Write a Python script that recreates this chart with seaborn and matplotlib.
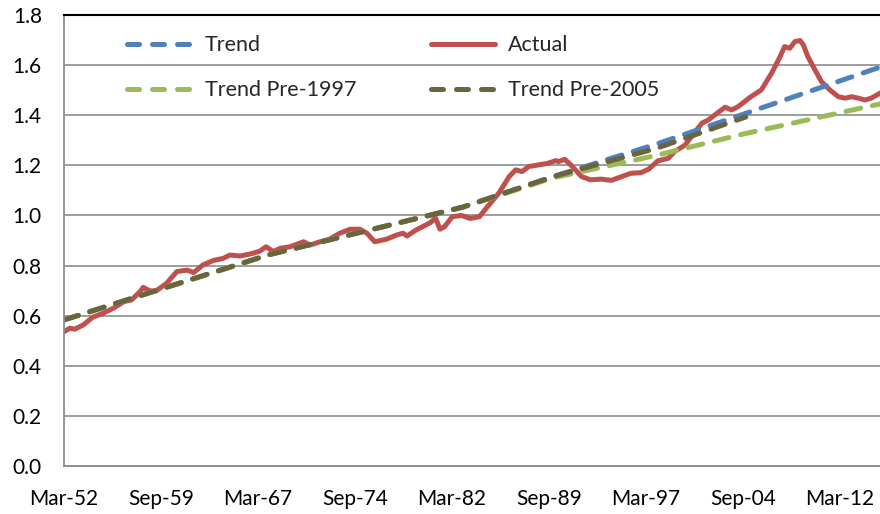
import matplotlib
matplotlib.use("Agg")
import matplotlib.pyplot as plt
import seaborn as sns
import pandas as pd

# ---- data ----
actual_year = [1952.17, 1952.63, 1953.0, 1953.66, 1954.4, 1955.2, 1956.0, 1956.8, 1957.4, 1958.05,
               1958.3, 1958.8, 1959.3, 1960.1, 1960.9, 1961.7, 1962.2, 1962.9, 1963.7, 1964.5,
               1965.0, 1965.8, 1966.55, 1967.3, 1967.8, 1968.35, 1968.9, 1969.65, 1970.7, 1971.2,
               1971.97, 1972.7, 1973.5, 1974.3, 1975.06, 1975.6, 1976.2, 1977.1, 1977.9, 1978.4,
               1978.7, 1979.4, 1980.5, 1980.9, 1981.25, 1981.6, 1982.2, 1982.9, 1983.6, 1984.3,
               1985.0, 1985.8, 1986.6, 1987.1, 1987.6, 1988.1, 1988.9, 1989.6, 1990.2, 1990.4,
               1990.9, 1991.4, 1992.2, 1992.9, 1993.7, 1994.5, 1995.3, 1996.0, 1996.8, 1997.4,
               1998.1, 1998.9, 1999.4, 2000.2, 2000.9, 2001.5, 2002.0, 2002.5, 2003.3, 2003.8,
               2004.3, 2004.8, 2005.3, 2006.1, 2006.9, 2007.5, 2007.9, 2008.3, 2008.7, 2009.1,
               2009.35, 2009.7, 2010.25, 2010.75, 2011.4, 2012.05, 2012.6, 2013.1, 2013.6, 2014.1,
               2014.6, 2015.28]
actual_value = [0.536, 0.550, 0.546, 0.563, 0.594, 0.610, 0.630, 0.656, 0.663, 0.696,
                0.713, 0.699, 0.699, 0.729, 0.776, 0.782, 0.772, 0.802, 0.820, 0.829,
                0.842, 0.838, 0.846, 0.857, 0.875, 0.856, 0.869, 0.875, 0.895, 0.882,
                0.895, 0.905, 0.929, 0.945, 0.945, 0.929, 0.895, 0.905, 0.922, 0.929,
                0.918, 0.942, 0.971, 0.990, 0.945, 0.955, 0.995, 1.000, 0.988, 0.995,
                1.040, 1.089, 1.155, 1.182, 1.175, 1.195, 1.202, 1.208, 1.219, 1.215,
                1.224, 1.200, 1.155, 1.142, 1.145, 1.140, 1.155, 1.168, 1.171, 1.185,
                1.218, 1.228, 1.255, 1.281, 1.328, 1.368, 1.381, 1.401, 1.432, 1.421,
                1.434, 1.454, 1.474, 1.501, 1.568, 1.628, 1.674, 1.667, 1.694, 1.698,
                1.681, 1.634, 1.581, 1.534, 1.501, 1.474, 1.468, 1.474, 1.468, 1.461,
                1.468, 1.488]

trend_year = [1952.17, 1968.0, 1983.0, 1990.0, 1998.0, 2015.28]
trend_value = [0.583, 0.843, 1.033, 1.155, 1.285, 1.592]

pre1997_year = [1952.17, 1968.0, 1983.0, 1990.0, 1998.0, 2004.7, 2015.28]
pre1997_value = [0.583, 0.843, 1.033, 1.150, 1.240, 1.325, 1.445]

pre2005_year = [1952.17, 1968.0, 1983.0, 1990.0, 1998.0, 2004.9]
pre2005_value = [0.583, 0.843, 1.033, 1.155, 1.268, 1.393]

tick_labels = ["Mar-52", "Sep-59", "Mar-67", "Sep-74", "Mar-82",
               "Sep-89", "Mar-97", "Sep-04", "Mar-12"]
tick_years = [1952.17, 1959.67, 1967.17, 1974.67, 1982.17,
              1989.67, 1997.17, 2004.67, 2012.17]

# ---- style ----
sns.set_style("white")
plt.rcParams["font.family"] = ["Lato", "DejaVu Sans"]

fig = plt.figure(figsize=(8.8, 5.14), dpi=100)
ax = fig.add_axes([64 / 880, 48 / 514, 1 - 64 / 880, (466 - 15) / 514])

LW = 3.6
dash = (0, (3.0, 2.4))

sns.lineplot(x=actual_year, y=actual_value, ax=ax, color="#C0504D", linewidth=3.6,
             label="Actual", errorbar=None, solid_capstyle="round")
sns.lineplot(x=trend_year, y=trend_value, ax=ax, color="#4F81BD", linewidth=LW,
             linestyle=dash, dash_capstyle="round", label="Trend", errorbar=None)
sns.lineplot(x=pre1997_year, y=pre1997_value, ax=ax, color="#9BBB59", linewidth=LW,
             linestyle=dash, dash_capstyle="round", label="Trend Pre-1997", errorbar=None)
sns.lineplot(x=pre2005_year, y=pre2005_value, ax=ax, color="#6B643C", linewidth=LW,
             linestyle=dash, dash_capstyle="round", label="Trend Pre-2005", errorbar=None)

ax.set_xlim(1952.17, 2015.28)
ax.set_ylim(0, 1.8)
ax.set_yticks([i * 0.2 for i in range(10)])
ax.set_yticklabels([f"{i * 0.2:.1f}" for i in range(10)])
ax.set_xticks(tick_years)
ax.set_xticklabels(tick_labels)
ax.set_xlabel("")
ax.set_ylabel("")

ax.grid(axis="y", color="#8C8C8C", linewidth=1.2)
ax.grid(axis="x", visible=False)
ax.set_axisbelow(True)

for side in ["left", "bottom"]:
    ax.spines[side].set_color("#8C8C8C")
    ax.spines[side].set_linewidth(1.3)
ax.spines["right"].set_visible(False)
ax.spines["top"].set_color("black")
ax.spines["top"].set_linewidth(1.5)

ax.tick_params(axis="x", direction="in", length=6, width=1.3, color="#8C8C8C",
               labelsize=15, pad=16.5, labelcolor="black")
ax.tick_params(axis="y", length=0, labelsize=15, pad=16, labelcolor="black")

lines = ax.get_lines()
handles = {l.get_label(): l for l in lines}
order = ["Trend", "Trend Pre-1997", "Actual", "Trend Pre-2005"]
leg = ax.legend([handles[k] for k in order], order, ncol=2, frameon=False,
                loc="upper left", bbox_to_anchor=(0.054, 0.998), fontsize=15.5,
                handlelength=3.0, handletextpad=0.6, columnspacing=3.45,
                labelspacing=1.17)
for lg_line, name in zip(leg.get_lines(), order):
    if name != "Actual":
        lg_line.set_linestyle((0, (2.4, 2.6)))
        lg_line.set_dash_capstyle("round")

fig.savefig("out.png", dpi=100)
